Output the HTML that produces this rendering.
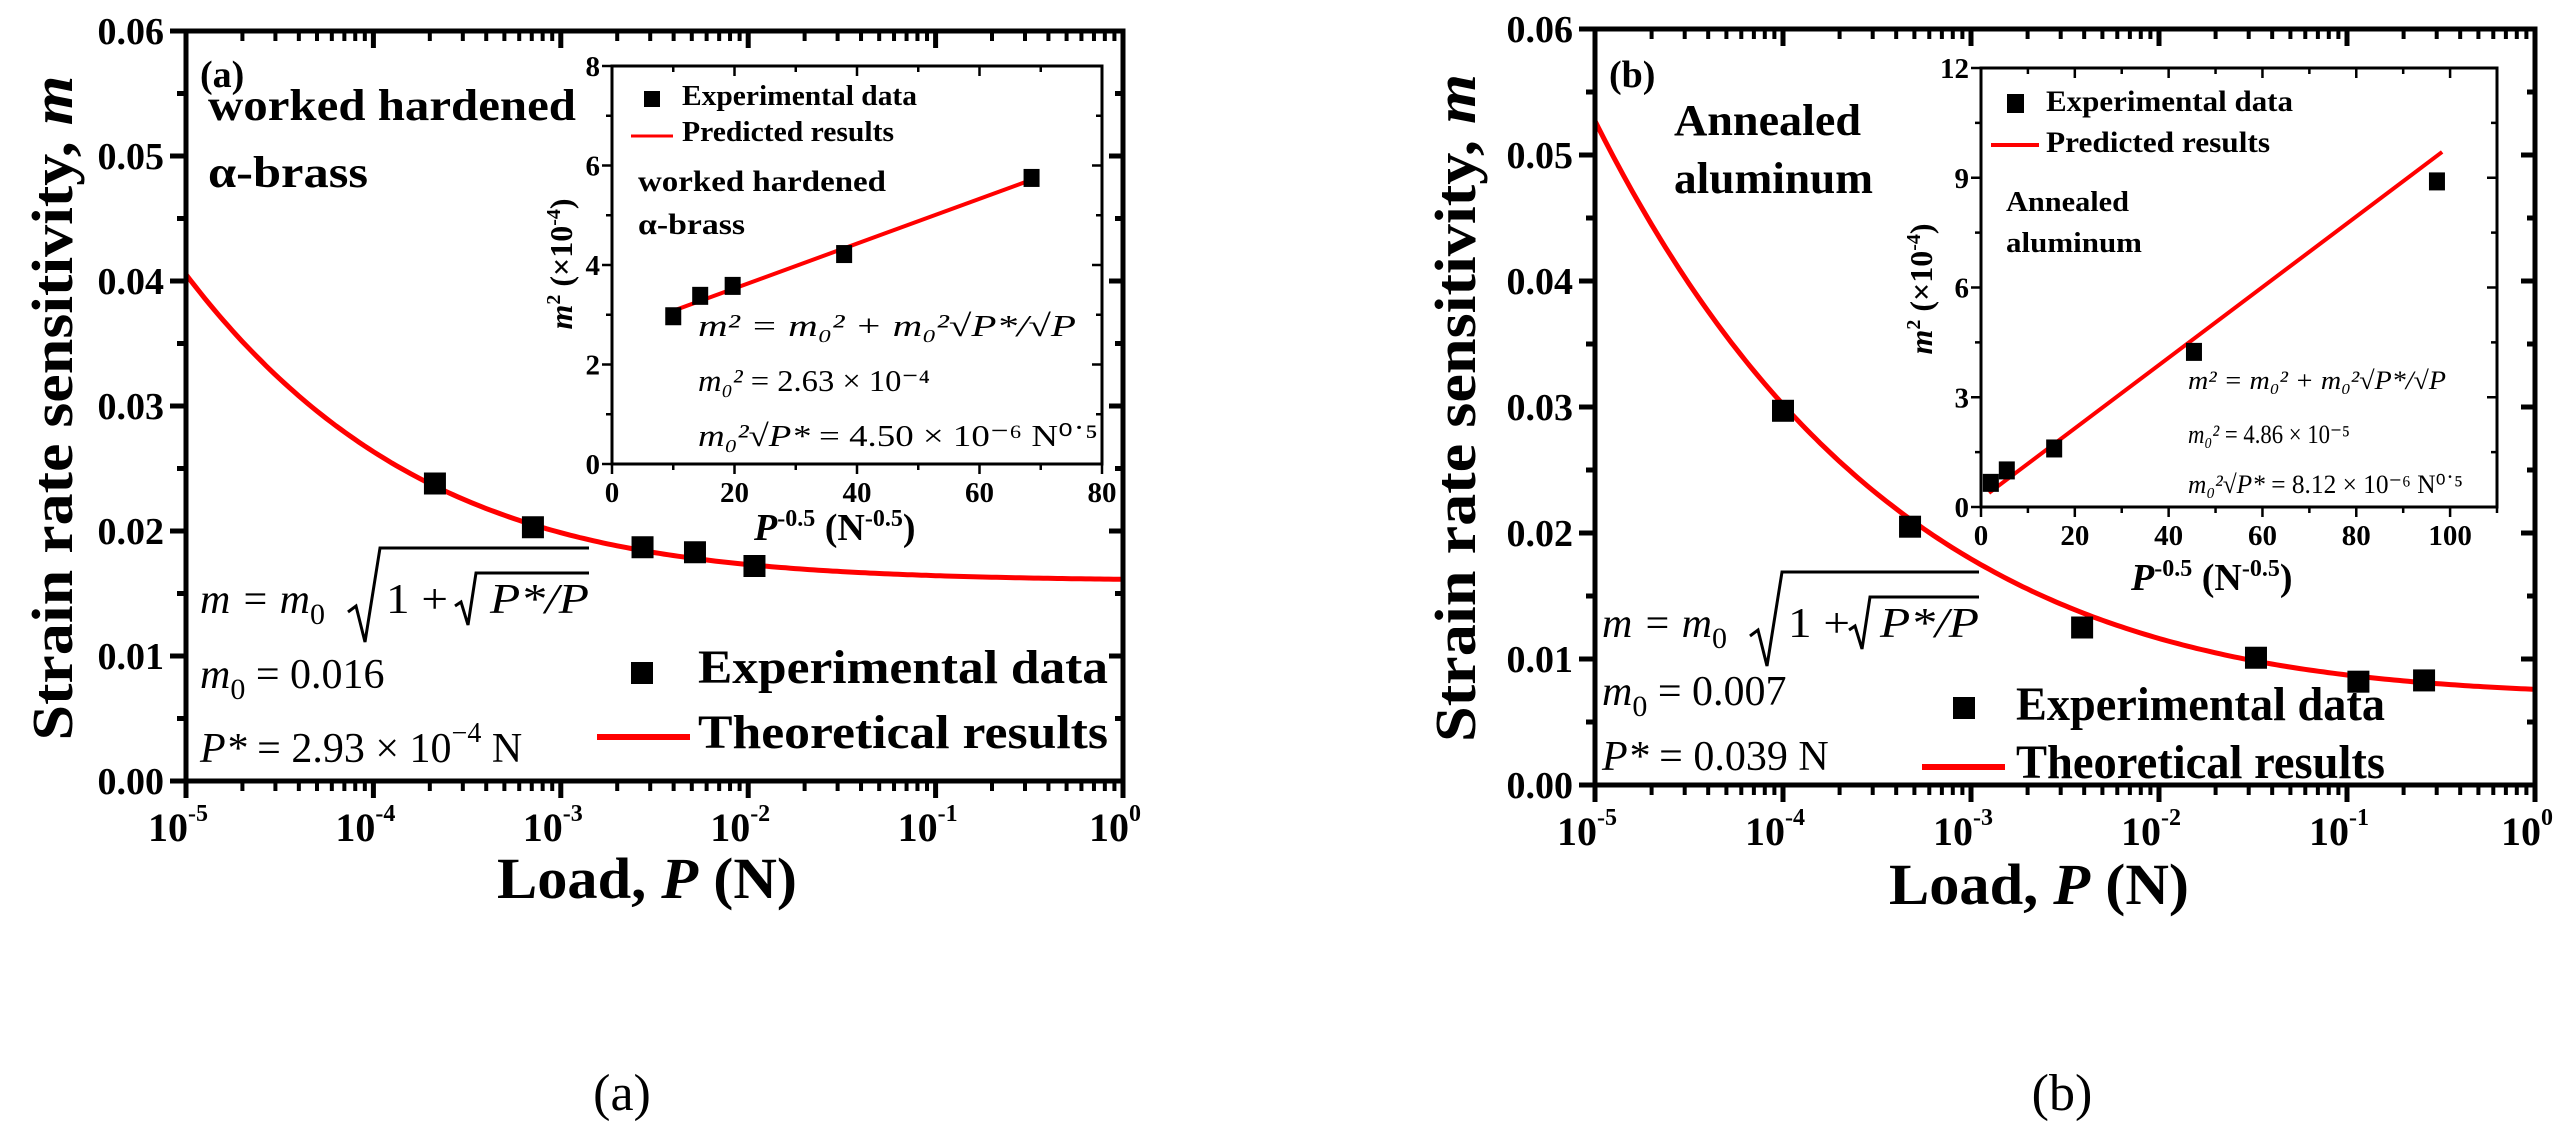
<!DOCTYPE html>
<html><head><meta charset="utf-8"><style>
html,body{margin:0;padding:0;background:#fff;}
svg{display:block;font-family:"Liberation Serif",serif;}
.b{font-weight:bold;}
.i{font-style:italic;}
</style></head><body>
<svg id="fig" width="2575" height="1144" viewBox="0 0 2575 1144" xmlns="http://www.w3.org/2000/svg">
<rect width="2575" height="1144" fill="#fff"/>
<g id="layer"></g>

<g>
<text x="200" y="87" font-size="38" class="b">(a)</text>
<text x="208" y="120" font-size="44" class="b" textLength="368" lengthAdjust="spacingAndGlyphs">worked hardened</text>
<text x="208" y="187" font-size="44" class="b" textLength="160" lengthAdjust="spacingAndGlyphs">α-brass</text>
<text transform="translate(72,408) rotate(-90)" text-anchor="middle" font-size="58" class="b" textLength="665" lengthAdjust="spacingAndGlyphs">Strain rate sensitivity, <tspan class="i">m</tspan></text>
<text x="497" y="898" font-size="58" class="b" textLength="300" lengthAdjust="spacingAndGlyphs">Load, <tspan class="i">P</tspan> (N)</text>
<text x="622" y="1110" text-anchor="middle" font-size="52">(a)</text>
<g font-size="42" class="i">
<text x="200" y="613">m = m<tspan font-size="30" font-style="normal" dy="11">0</tspan></text>
<polyline points="348,612 356,606 365,642 380,548 589,548" fill="none" stroke="#000" stroke-width="3"/>
<text x="386" y="613" font-style="normal" textLength="62" lengthAdjust="spacingAndGlyphs">1 +</text>
<polyline points="455,606 461,602 468,625 476,573 589,573" fill="none" stroke="#000" stroke-width="3"/>
<text x="490" y="613" textLength="99" lengthAdjust="spacingAndGlyphs">P*/P</text>
<text x="200" y="688">m<tspan font-size="30" font-style="normal" dy="11">0</tspan><tspan font-style="normal" dy="-11"> = 0.016</tspan></text>
<text x="200" y="762">P*<tspan font-style="normal"> = 2.93 × 10</tspan><tspan font-size="28" font-style="normal" dy="-20">−4</tspan><tspan font-style="normal" dy="20"> N</tspan></text>
</g>
<g>
<rect x="631" y="662" width="22" height="22" fill="#000"/>
<text x="698" y="683" font-size="48" class="b" textLength="410" lengthAdjust="spacingAndGlyphs">Experimental data</text>
<line x1="597" y1="737" x2="690" y2="737" stroke="#f00" stroke-width="6"/>
<text x="698" y="748" font-size="48" class="b" textLength="410" lengthAdjust="spacingAndGlyphs">Theoretical results</text>
</g>
<g>
<rect x="644" y="91" width="16" height="16" fill="#000"/>
<text x="682" y="105" font-size="28" class="b" textLength="235" lengthAdjust="spacingAndGlyphs">Experimental data</text>
<line x1="631" y1="136" x2="673" y2="136" stroke="#f00" stroke-width="3"/>
<text x="682" y="141" font-size="28" class="b" textLength="212" lengthAdjust="spacingAndGlyphs">Predicted results</text>
<text x="638" y="191" font-size="30" class="b" textLength="248" lengthAdjust="spacingAndGlyphs">worked hardened</text>
<text x="638" y="234" font-size="30" class="b" textLength="107" lengthAdjust="spacingAndGlyphs">α-brass</text>
<text transform="translate(572,264) rotate(-90)" text-anchor="middle" font-size="32" class="b"><tspan class="i">m</tspan><tspan font-size="20" dy="-12">2</tspan><tspan dy="12"> (×10</tspan><tspan font-size="20" dy="-12">-4</tspan><tspan dy="12">)</tspan></text>
<text x="754" y="540" font-size="38" class="b"><tspan class="i">P</tspan><tspan font-size="24" dy="-14">-0.5</tspan><tspan dy="14"> (N</tspan><tspan font-size="24" dy="-14">-0.5</tspan><tspan dy="14">)</tspan></text>
<g font-size="31" class="i">
<text x="698" y="336" textLength="378" lengthAdjust="spacingAndGlyphs">m² = m₀² + m₀²√P*/√P</text>
<text x="698" y="391" textLength="232" lengthAdjust="spacingAndGlyphs">m₀² <tspan font-style="normal">= 2.63 × 10⁻⁴</tspan></text>
<text x="698" y="446" textLength="400" lengthAdjust="spacingAndGlyphs">m₀²√P* <tspan font-style="normal">= 4.50 × 10⁻⁶ N⁰˙⁵</tspan></text>
</g>
</g>

<g>
<text x="1609" y="87" font-size="38" class="b">(b)</text>
<text x="1674" y="135" font-size="44" class="b" textLength="187" lengthAdjust="spacingAndGlyphs">Annealed</text>
<text x="1674" y="193" font-size="44" class="b" textLength="199" lengthAdjust="spacingAndGlyphs">aluminum</text>
<text transform="translate(1475,408) rotate(-90)" text-anchor="middle" font-size="58" class="b" textLength="668" lengthAdjust="spacingAndGlyphs">Strain rate sensitivity, <tspan class="i">m</tspan></text>
<text x="1889" y="904" font-size="58" class="b" textLength="300" lengthAdjust="spacingAndGlyphs">Load, <tspan class="i">P</tspan> (N)</text>
<text x="2062" y="1110" text-anchor="middle" font-size="52">(b)</text>
<g font-size="42" class="i" transform="translate(1402,24)">
<text x="200" y="613">m = m<tspan font-size="30" font-style="normal" dy="11">0</tspan></text>
<polyline points="348,612 356,606 365,642 380,548 577,548" fill="none" stroke="#000" stroke-width="3"/>
<text x="386" y="613" font-style="normal" textLength="62" lengthAdjust="spacingAndGlyphs">1 +</text>
<polyline points="447,606 453,602 460,625 468,573 577,573" fill="none" stroke="#000" stroke-width="3"/>
<text x="478" y="613" textLength="99" lengthAdjust="spacingAndGlyphs">P*/P</text>
<text x="200" y="681">m<tspan font-size="30" font-style="normal" dy="11">0</tspan><tspan font-style="normal" dy="-11"> = 0.007</tspan></text>
<text x="200" y="746">P*<tspan font-style="normal"> = 0.039 N</tspan></text>
</g>
<g>
<rect x="1953" y="697" width="22" height="22" fill="#000"/>
<text x="2016" y="720" font-size="48" class="b" textLength="369" lengthAdjust="spacingAndGlyphs">Experimental data</text>
<line x1="1922" y1="767" x2="2005" y2="767" stroke="#f00" stroke-width="6"/>
<text x="2016" y="778" font-size="48" class="b" textLength="369" lengthAdjust="spacingAndGlyphs">Theoretical results</text>
</g>
<g>
<rect x="2007" y="94" width="17" height="19" fill="#000"/>
<text x="2046" y="111" font-size="30" class="b" textLength="247" lengthAdjust="spacingAndGlyphs">Experimental data</text>
<line x1="1991" y1="145" x2="2039" y2="145" stroke="#f00" stroke-width="4"/>
<text x="2046" y="152" font-size="30" class="b" textLength="224" lengthAdjust="spacingAndGlyphs">Predicted results</text>
<text x="2006" y="211" font-size="28" class="b" textLength="123" lengthAdjust="spacingAndGlyphs">Annealed</text>
<text x="2006" y="252" font-size="28" class="b" textLength="136" lengthAdjust="spacingAndGlyphs">aluminum</text>
<text transform="translate(1932,289) rotate(-90)" text-anchor="middle" font-size="32" class="b"><tspan class="i">m</tspan><tspan font-size="20" dy="-12">2</tspan><tspan dy="12"> (×10</tspan><tspan font-size="20" dy="-12">-4</tspan><tspan dy="12">)</tspan></text>
<text x="2131" y="590" font-size="38" class="b"><tspan class="i">P</tspan><tspan font-size="24" dy="-14">-0.5</tspan><tspan dy="14"> (N</tspan><tspan font-size="24" dy="-14">-0.5</tspan><tspan dy="14">)</tspan></text>
<g font-size="26" class="i">
<text x="2188" y="389" textLength="258" lengthAdjust="spacingAndGlyphs">m² = m₀² + m₀²√P*/√P</text>
<text x="2188" y="443" textLength="162" lengthAdjust="spacingAndGlyphs">m₀² <tspan font-style="normal">= 4.86 × 10⁻⁵</tspan></text>
<text x="2188" y="493" textLength="275" lengthAdjust="spacingAndGlyphs">m₀²√P* <tspan font-style="normal">= 8.12 × 10⁻⁶ N⁰˙⁵</tspan></text>
</g>
</g>
</svg>
<script>
// ---- data ----
const loadA = [2.13e-4, 7.1e-4, 2.73e-3, 5.2e-3, 1.08e-2];
const mA = [0.0238, 0.0203, 0.0187, 0.0183, 0.0172];
const m0A = 0.016;
const pStarA = 2.93e-4;
const loadB = [1.0e-4, 4.74e-4, 3.9e-3, 0.0328, 0.115, 0.257];
const mB = [0.0297, 0.0205, 0.0125, 0.0101, 0.0082, 0.0083];
const m0B = 0.007;
const pStarB = 0.031;
const insetXA = [10, 14.4, 19.7, 37.9, 68.5];
const insetYA = [2.97, 3.38, 3.58, 4.22, 5.75];
const insetLineA = [2.63, 0.045, 10, 68.5];
const insetXB = [2.1, 5.5, 15.6, 45.4, 97.2];
const insetYB = [0.66, 1.0, 1.6, 4.24, 8.9];
const insetLineB = [0.22, 0.0965, 1.7, 98.3];
const mainYTicks = [0, 0.01, 0.02, 0.03, 0.04, 0.05, 0.06];
const mainYTickLabels = ["0.00","0.01","0.02","0.03","0.04","0.05","0.06"];
const mainXExps = [-5, -4, -3, -2, -1, 0];
const insetXTicksA = [0, 20, 40, 60, 80];
const insetYTicksA = [0, 2, 4, 6, 8];
const insetXTicksB = [0, 20, 40, 60, 80, 100];
const insetYTicksB = [0, 3, 6, 9, 12];

const NS = "http://www.w3.org/2000/svg";
const layer = document.getElementById("layer");
function mk(tag, attrs, parent) {
  const e = document.createElementNS(NS, tag);
  for (const k in attrs) e.setAttribute(k, attrs[k]);
  (parent || layer).appendChild(e);
  return e;
}

function mainPanel(id, g, loads, ms, m0, pStar) {
  const sx = p => g.x0 + (Math.log10(p) + 5) / 5 * (g.x1 - g.x0);
  const sy = v => g.y0 - v / 0.06 * (g.y0 - g.y1);
  const grp = mk("g", {});
  
  
  let d = "";
  for (let i = 0; i <= 200; i++) {
    const lp = -5 + 5 * i / 200, p = Math.pow(10, lp);
    const v = m0 * Math.sqrt(1 + Math.sqrt(pStar / p));
    d += (i ? "L" : "M") + sx(p).toFixed(1) + "," + sy(v).toFixed(1);
  }
  const c = mk("path", {d: d, fill: "none", stroke: "#f00", "stroke-width": 5}, grp);
  
  
  loads.forEach((p, i) => {
    const r = mk("rect", {x: sx(p) - 11, y: sy(ms[i]) - 11, width: 22, height: 22, fill: "#000"}, grp);
    
    
  });
  const f = mk("rect", {x: g.x0, y: g.y1, width: g.x1 - g.x0, height: g.y0 - g.y1, fill: "none", stroke: "#000", "stroke-width": 5}, grp);
  
  
  mainYTicks.forEach((v, i) => {
    const y = sy(v);
    mk("line", {x1: g.x0 - 16, y1: y, x2: g.x0, y2: y, stroke: "#000", "stroke-width": 5}, grp);
    mk("line", {x1: g.x1, y1: y, x2: g.x1 - 14, y2: y, stroke: "#000", "stroke-width": 5}, grp);
    if (i < mainYTicks.length - 1) {
      const ym = sy(v + 0.005);
      mk("line", {x1: g.x0 - 9, y1: ym, x2: g.x0, y2: ym, stroke: "#000", "stroke-width": 5}, grp);
      mk("line", {x1: g.x1, y1: ym, x2: g.x1 - 8, y2: ym, stroke: "#000", "stroke-width": 5}, grp);
    }
    const t = mk("text", {x: g.x0 - 22, y: y + 13, "text-anchor": "end", "font-size": 38, "font-weight": "bold"}, grp);
    t.textContent = mainYTickLabels[i];
    
    
  });
  mainXExps.forEach((e, i) => {
    const x = sx(Math.pow(10, e));
    mk("line", {x1: x, y1: g.y0, x2: x, y2: g.y0 + 17, stroke: "#000", "stroke-width": 5}, grp);
    mk("line", {x1: x, y1: g.y1, x2: x, y2: g.y1 + 17, stroke: "#000", "stroke-width": 5}, grp);
    if (i < mainXExps.length - 1) {
      for (let k = 2; k <= 9; k++) {
        const xm = sx(k * Math.pow(10, e));
        mk("line", {x1: xm, y1: g.y0, x2: xm, y2: g.y0 + 10, stroke: "#000", "stroke-width": 4}, grp);
        mk("line", {x1: xm, y1: g.y1, x2: xm, y2: g.y1 + 10, stroke: "#000", "stroke-width": 4}, grp);
      }
    }
    const t = mk("text", {x: x - 8, y: g.y0 + 60, "text-anchor": "middle", "font-size": 40, "font-weight": "bold"}, grp);
    t.textContent = "10";
    const s = mk("tspan", {"font-size": 24, dy: -20}, t);
    s.textContent = String(e);
    
    
  });
}

function insetPanel(id, g, xs, ys, line, xTicks, yTicks, xMax, yMax, xMinor, yMinor) {
  const sx = v => g.x0 + v / xMax * (g.x1 - g.x0);
  const sy = v => g.y0 - v / yMax * (g.y0 - g.y1);
  const grp = mk("g", {});
  
  
  const f = mk("rect", {x: g.x0, y: g.y1, width: g.x1 - g.x0, height: g.y0 - g.y1, fill: "#fff", stroke: "#000", "stroke-width": 3}, grp);
  
  
  for (let v = 0; v <= xMax + 1e-9; v += xMinor) {
    const x = sx(v), maj = xTicks.indexOf(Math.round(v)) >= 0;
    mk("line", {x1: x, y1: g.y0, x2: x, y2: g.y0 + (maj ? 10 : 6), stroke: "#000", "stroke-width": 2.5}, grp);
    mk("line", {x1: x, y1: g.y1, x2: x, y2: g.y1 + (maj ? 10 : 6), stroke: "#000", "stroke-width": 2.5}, grp);
  }
  for (let v = 0; v <= yMax + 1e-9; v += yMinor) {
    const y = sy(v), maj = yTicks.indexOf(Math.round(v)) >= 0;
    mk("line", {x1: g.x0 - (maj ? 10 : 6), y1: y, x2: g.x0, y2: y, stroke: "#000", "stroke-width": 2.5}, grp);
    mk("line", {x1: g.x1, y1: y, x2: g.x1 - (maj ? 10 : 6), y2: y, stroke: "#000", "stroke-width": 2.5}, grp);
  }
  xTicks.forEach(v => {
    const t = mk("text", {x: sx(v), y: g.y0 + 38, "text-anchor": "middle", "font-size": 29, "font-weight": "bold"}, grp);
    t.textContent = String(v);
    
    
  });
  yTicks.forEach(v => {
    const t = mk("text", {x: g.x0 - 12, y: sy(v) + 10, "text-anchor": "end", "font-size": 29, "font-weight": "bold"}, grp);
    t.textContent = String(v);
    
    
  });
  const l = mk("line", {x1: sx(line[2]), y1: sy(line[0] + line[1] * line[2]), x2: sx(line[3]), y2: sy(line[0] + line[1] * line[3]), stroke: "#f00", "stroke-width": 4}, grp);
  
  
  xs.forEach((v, i) => {
    const r = mk("rect", {x: sx(v) - 8, y: sy(ys[i]) - 9, width: 16, height: 18, fill: "#000"}, grp);
    
    
  });
}

mainPanel("a", {x0: 186, x1: 1123, y0: 781, y1: 31}, loadA, mA, m0A, pStarA);
mainPanel("b", {x0: 1595, x1: 2535, y0: 785, y1: 29}, loadB, mB, m0B, pStarB);
insetPanel("a", {x0: 612, x1: 1102, y0: 464, y1: 66}, insetXA, insetYA, insetLineA, insetXTicksA, insetYTicksA, 80, 8, 10, 1);
insetPanel("b", {x0: 1981, x1: 2497, y0: 507, y1: 68}, insetXB, insetYB, insetLineB, insetXTicksB, insetYTicksB, 110, 12, 10, 1.5);
</script>
</body></html>
